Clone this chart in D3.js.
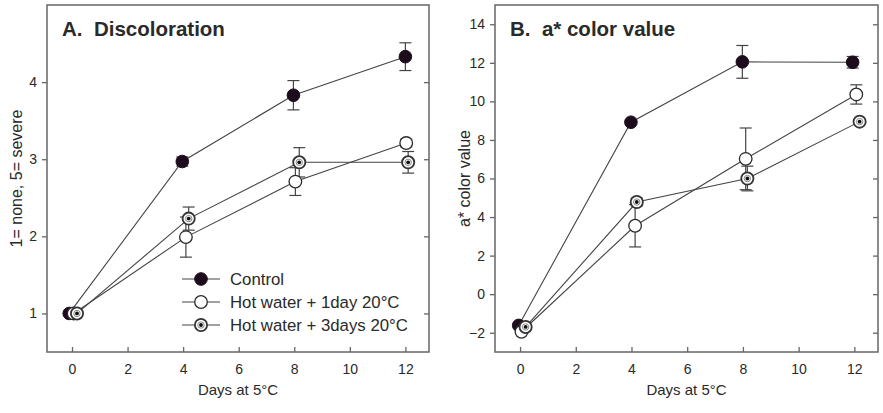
<!DOCTYPE html>
<meta charset="utf-8">
<script src="https://d3js.org/d3.v7.min.js"></script>
<style>
  body { margin: 0; background: #fff; }
  text { font-family: Arial, "Liberation Sans", sans-serif; fill: #2a2a2a; }
</style>
<div id="my_dataviz"></div>
<script>

// data (x = day, jittered as in the figure)
var seriesNames = ["Control", "Hot water + 1day 20\u00B0C", "Hot water + 3days 20\u00B0C"];
var xTicks = [0, 2, 4, 6, 8, 10, 12];

// panel A: discoloration
var discControlX = [-0.1, 3.97, 7.97, 12.0];
var discControlY = [1.0, 2.97, 3.83, 4.33];
var discControlE = [0.0, 0.06, 0.19, 0.18];
var disc1dayX = [0.06, 4.1, 8.04, 12.03];
var disc1dayY = [1.0, 1.99, 2.71, 3.21];
var disc1dayE = [0.0, 0.26, 0.18, 0.05];
var disc3dayX = [0.18, 4.2, 8.18, 12.1];
var disc3dayY = [1.0, 2.23, 2.96, 2.96];
var disc3dayE = [0.0, 0.15, 0.19, 0.14];
var discYTicks = [1, 2, 3, 4];

// panel B: a* color value
var aControlX = [-0.05, 3.98, 7.98, 11.94];
var aControlY = [-1.62, 8.92, 12.05, 12.03];
var aControlE = [0.0, 0.0, 0.85, 0.3];
var a1dayX = [0.05, 4.13, 8.1, 12.07];
var a1dayY = [-1.95, 3.55, 7.02, 10.36];
var a1dayE = [0.0, 1.1, 1.6, 0.5];
var a3dayX = [0.2, 4.19, 8.16, 12.19];
var a3dayY = [-1.7, 4.78, 6.0, 8.95];
var a3dayE = [0.0, 0.2, 0.64, 0.1];
var aYTicks = [-2, 0, 2, 4, 6, 8, 10, 12, 14];

function zip(xs, ys, es) {
  return xs.map(function(x, i) { return {x: x, y: ys[i], e: es[i]}; });
}

var svg = d3.select("#my_dataviz")
  .append("svg")
    .attr("width", 883)
    .attr("height", 413);

function drawMarker(g, kind, cx, cy) {
  if (kind == 0) {
    g.append("circle").attr("cx", cx).attr("cy", cy).attr("r", 6.3)
      .attr("fill", "#1c0c1c").attr("stroke", "#1c0c1c").attr("stroke-width", 1);
  } else if (kind == 1) {
    g.append("circle").attr("cx", cx).attr("cy", cy).attr("r", 6.3)
      .attr("fill", "#fff").attr("stroke", "#2a2a2a").attr("stroke-width", 1.3);
  } else {
    g.append("circle").attr("cx", cx).attr("cy", cy).attr("r", 6.1)
      .attr("fill", "#fff").attr("stroke", "#333").attr("stroke-width", 1.8);
    g.append("circle").attr("cx", cx).attr("cy", cy).attr("r", 3.2)
      .attr("fill", "#fff").attr("stroke", "#888").attr("stroke-width", 1);
    g.append("circle").attr("cx", cx).attr("cy", cy).attr("r", 1.9)
      .attr("fill", "#111");
  }
}

function panel(opts) {
  var g = svg.append("g");
  var x = d3.scaleLinear().domain([-0.9, 12.85]).range([opts.left, opts.right]);
  var y = d3.scaleLinear().domain(opts.yDomain).range([opts.bottom, opts.top]);

  // frame
  g.append("rect")
    .attr("x", opts.left).attr("y", opts.top)
    .attr("width", opts.right - opts.left).attr("height", opts.bottom - opts.top)
    .attr("fill", "none").attr("stroke", "#666").attr("stroke-width", 1.5);

  // bottom axis (ticks point up)
  var xa = g.append("g").attr("transform", "translate(0," + opts.bottom + ")")
    .call(d3.axisBottom(x).tickValues(xTicks).tickSizeInner(-5).tickSizeOuter(0).tickPadding(12));
  // left axis (ticks out)
  var ya = g.append("g").attr("transform", "translate(" + opts.left + ",0)")
    .call(d3.axisLeft(y).tickValues(opts.yTicks).tickFormat(d3.format("d"))
      .tickSizeInner(5).tickSizeOuter(0).tickPadding(5));
  // right mirror ticks (inward)
  var yr = g.append("g").attr("transform", "translate(" + opts.right + ",0)")
    .call(d3.axisRight(y).tickValues(opts.yTicks).tickSizeInner(-5).tickSizeOuter(0).tickFormat(""));
  [xa, ya, yr].forEach(function(a) {
    a.select(".domain").remove();
    a.selectAll("line").attr("stroke", "#666").attr("stroke-width", 1.3);
    a.selectAll("text").attr("font-size", 14).attr("fill", "#333")
      .style("font-family", "Arial, 'Liberation Sans', sans-serif");
  });

  // titles and labels
  g.append("text").attr("x", opts.left + 15).attr("y", 36)
    .attr("font-size", 20.5).attr("font-weight", "bold").attr("fill", "#222")
    .style("white-space", "pre")
    .text(opts.title);
  g.append("text")
    .attr("transform", "translate(" + (opts.left - 25) + "," + ((opts.top + opts.bottom) / 2) + ") rotate(-90)")
    .attr("text-anchor", "middle").attr("font-size", 16)
    .text(opts.ylabel);
  g.append("text")
    .attr("x", (opts.left + opts.right) / 2).attr("y", 395)
    .attr("text-anchor", "middle").attr("font-size", 15)
    .text("Days at 5\u00B0C");

  var line = d3.line().x(function(d) { return x(d.x); }).y(function(d) { return y(d.y); });

  opts.series.forEach(function(s) {
    g.append("path").datum(s.data)
      .attr("fill", "none").attr("stroke", "#444").attr("stroke-width", 1.1)
      .attr("d", line);
  });

  // error bars
  opts.series.forEach(function(s) {
    s.data.forEach(function(d) {
      if (d.e <= 0) return;
      var cx = x(d.x), y0 = y(d.y - d.e), y1 = y(d.y + d.e);
      g.append("line").attr("x1", cx).attr("x2", cx).attr("y1", y0).attr("y2", y1)
        .attr("stroke", "#444").attr("stroke-width", 1.2);
      [y0, y1].forEach(function(yy) {
        g.append("line").attr("x1", cx - 6).attr("x2", cx + 6).attr("y1", yy).attr("y2", yy)
          .attr("stroke", "#444").attr("stroke-width", 1.2);
      });
    });
  });

  // markers
  opts.series.forEach(function(s) {
    s.data.forEach(function(d) { drawMarker(g, s.kind, x(d.x), y(d.y)); });
  });
}

panel({
  left: 47, right: 429, top: 5, bottom: 352,
  yDomain: [0.5, 5], yTicks: discYTicks,
  title: "A.  Discoloration", ylabel: "1= none, 5= severe",
  series: [
    {kind: 0, data: zip(discControlX, discControlY, discControlE)},
    {kind: 1, data: zip(disc1dayX, disc1dayY, disc1dayE)},
    {kind: 2, data: zip(disc3dayX, disc3dayY, disc3dayE)}
  ]
});

panel({
  left: 495, right: 878, top: 5, bottom: 352,
  yDomain: [-3, 15], yTicks: aYTicks,
  title: "B.  a* color value", ylabel: "a* color value",
  series: [
    {kind: 0, data: zip(aControlX, aControlY, aControlE)},
    {kind: 1, data: zip(a1dayX, a1dayY, a1dayE)},
    {kind: 2, data: zip(a3dayX, a3dayY, a3dayE)}
  ]
});

// legend in panel A
var legend = svg.append("g").selectAll("g")
  .data(seriesNames)
  .enter().append("g")
  .attr("transform", function(d, i) { return "translate(0," + (279 + i * 23) + ")"; });

legend.append("line")
  .attr("x1", 182).attr("x2", 220).attr("y1", 0).attr("y2", 0)
  .attr("stroke", "#444").attr("stroke-width", 1.1);
legend.each(function(d, i) { drawMarker(d3.select(this), i, 201, 0); });
legend.append("text")
  .attr("x", 230).attr("y", 0).attr("dy", "0.35em")
  .attr("font-size", 16.8)
  .text(function(d) { return d; });

</script>
